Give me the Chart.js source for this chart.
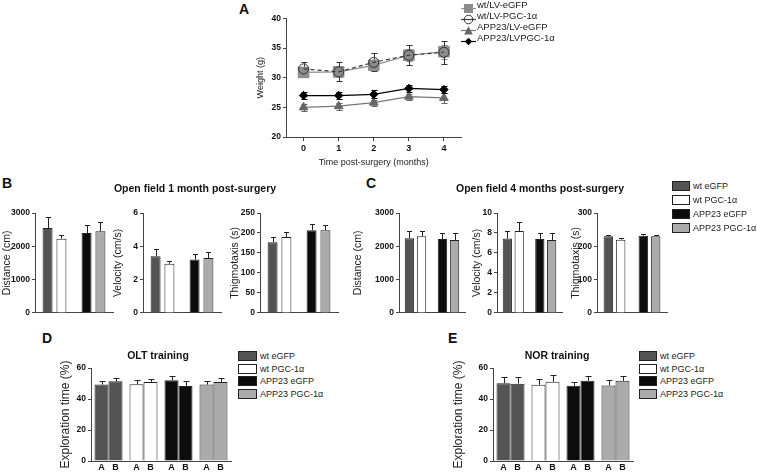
<!DOCTYPE html>
<html>
<head>
<meta charset="utf-8">
<script src="https://cdn.jsdelivr.net/npm/chart.js@4.4.1/dist/chart.umd.min.js"></script>
<style>
  body { margin: 0; background: #fff; width: 757px; height: 472px; position: relative; overflow: hidden;
         font-family: "Liberation Sans", Arial, sans-serif; color: #222; }
  canvas { position: absolute; }
  .t { position: absolute; white-space: nowrap; line-height: 1; }
  .box { position: absolute; height: 10px; box-sizing: border-box; border: 1px solid #222; }
</style>
</head>
<body>
<script>
// ---- panel A: body weight (g) ----
const months = ['0', '1', '2', '3', '4'];
const weightWtGfp = [30.9, 31.0, 32.1, 33.8, 34.4];
const weightWtGfpErr = [0.8, 0.9, 0.9, 1.0, 1.2];
const weightWtPgc = [31.5, 31.0, 32.6, 33.8, 34.3];
const weightWtPgcErr = [1.2, 1.6, 1.5, 1.7, 1.9];
const weightAppGfp = [25.0, 25.2, 25.8, 26.8, 26.6];
const weightAppGfpErr = [0.6, 0.6, 0.5, 0.5, 0.8];
const weightAppPgc = [27.0, 27.0, 27.2, 28.2, 28.0];
const weightAppPgcErr = [0.6, 0.6, 0.7, 0.6, 0.6];

// ---- panels B-E: groups ----
const groups = ['wt eGFP', 'wt PGC-1α', 'APP23 eGFP', 'APP23 PGC-1α'];
const genotypes = ['wt', 'APP23'];

// open field, 1 month
const of1Distance = [2550, 2230, 2400, 2450];
const of1DistanceErr = [340, 100, 250, 270];
const of1Velocity = [3.4, 2.95, 3.2, 3.3];
const of1VelocityErr = [0.42, 0.15, 0.32, 0.35];
const of1Thigmo = [177, 190, 207, 207];
const of1ThigmoErr = [13, 12, 16, 12];

// open field, 4 months
const of4Distance = [2240, 2300, 2220, 2190];
const of4DistanceErr = [210, 170, 170, 200];
const of4Velocity = [7.45, 8.2, 7.4, 7.3];
const of4VelocityErr = [0.7, 0.85, 0.55, 0.65];
const of4Thigmo = [230, 220, 232, 230];
const of4ThigmoErr = [5, 6, 6, 5];

// object training, exploration time (%) for objects A and B
const oltA = [49.3, 49.5, 52.1, 49.3];
const oltAErr = [2.1, 2.5, 2.5, 2.1];
const oltB = [51.4, 51.0, 48.4, 51.0];
const oltBErr = [2.1, 2.1, 3.0, 2.6];
const norA = [50.2, 49.2, 48.5, 48.7];
const norAErr = [3.8, 3.8, 2.6, 3.8];
const norB = [49.9, 51.1, 51.8, 51.7];
const norBErr = [4.1, 4.2, 2.8, 3.4];

const groupColors = ['#545454', '#ffffff', '#0c0c0c', '#ababab'];
const FONT = '"Liberation Sans", Arial, sans-serif';

Chart.defaults.font.family = FONT;
Chart.defaults.color = '#111';
Chart.defaults.animation = false;
Chart.defaults.plugins.legend.display = false;
Chart.defaults.plugins.tooltip.enabled = false;

// error bars, drawn from the y scale
const errorBars = {
  id: 'errorBars',
  beforeDatasetsDraw(chart) { drawErrors(chart, true); },
  afterDatasetsDraw(chart) { drawErrors(chart, false); }
};
function drawErrors(chart, behind) {
  const ctx = chart.ctx;
  const y = chart.scales.y;
  chart.data.datasets.forEach((ds, i) => {
    if (!ds.errors || !!ds.errorsBehind !== behind) return;
    const meta = chart.getDatasetMeta(i);
    const cap = ds.capWidth || 5;
    ctx.save();
    ctx.strokeStyle = ds.errorColor || '#222';
    ctx.lineWidth = 1;
    meta.data.forEach((el, j) => {
      const v = ds.data[j], e = ds.errors[j];
      const x = Math.round(el.x) + 0.5;
      const top = Math.round(y.getPixelForValue(v + e)) + 0.5;
      const bot = ds.upOnly ? el.y : Math.round(y.getPixelForValue(v - e)) + 0.5;
      ctx.beginPath();
      ctx.moveTo(x, bot);
      ctx.lineTo(x, top);
      ctx.moveTo(x - cap / 2, top);
      ctx.lineTo(x + cap / 2, top);
      if (!ds.upOnly) {
        ctx.moveTo(x - cap / 2, bot);
        ctx.lineTo(x + cap / 2, bot);
      }
      ctx.stroke();
    });
    ctx.restore();
  });
}

// "A" / "B" under each bar of the training panels
const barLetters = {
  id: 'barLetters',
  afterDraw(chart) {
    const ctx = chart.ctx;
    ctx.save();
    ctx.font = 'bold 9px ' + FONT;
    ctx.fillStyle = '#111';
    ctx.textAlign = 'center';
    ctx.textBaseline = 'middle';
    chart.data.datasets.forEach((ds, i) => {
      chart.getDatasetMeta(i).data.forEach(el => {
        ctx.fillText(ds.label, el.x, chart.chartArea.bottom + 7);
      });
    });
    ctx.restore();
  }
};

function place(id, left, top, width, height) {
  const c = document.createElement('canvas');
  c.id = id;
  c.width = width;
  c.height = height;
  c.style.left = left + 'px';
  c.style.top = top + 'px';
  c.style.width = width + 'px';
  c.style.height = height + 'px';
  document.body.appendChild(c);
  return c;
}

function addText(text, x, y, css, center) {
  const d = document.createElement('div');
  d.className = 't';
  d.textContent = text;
  d.style.cssText = 'left:' + x + 'px;top:' + y + 'px;transform:translate(' +
    (center ? '-50%' : '0') + ',-50%);' + css;
  document.body.appendChild(d);
  return d;
}

function yAxis(title, min, max, step, width, titleSize) {
  return {
    min: min, max: max,
    ticks: { stepSize: step, font: { size: 8.5, weight: 'bold' }, padding: 2, color: '#111',
             callback: v => String(v) },
    grid: { drawOnChartArea: false, tickLength: 3, color: '#444' },
    border: { color: '#444' },
    title: { display: true, text: title, font: { size: titleSize }, padding: 0, color: '#222' },
    afterFit: s => { s.width = width; }
  };
}

function xHidden(height) {
  return {
    ticks: { display: false },
    grid: { display: false },
    border: { color: '#444' },
    afterFit: s => { s.height = height; }
  };
}

// ---------- panel A ----------
const weightSeries = [
  { label: 'wt/LV-eGFP', data: weightWtGfp, err: weightWtGfpErr, shape: 'rect', radius: 7.5,
    line: '#8f8f8f', fill: '#8c8c8c', edge: '#8c8c8c', dash: [], order: 4 },
  { label: 'wt/LV-PGC-1α', data: weightWtPgc, err: weightWtPgcErr, shape: 'circle', radius: 5,
    line: '#3c3c3c', fill: 'rgba(0,0,0,0)', edge: '#333', dash: [4, 3], order: 3 },
  { label: 'APP23/LV-eGFP', data: weightAppGfp, err: weightAppGfpErr, shape: 'triangle', radius: 5,
    line: '#777', fill: '#666', edge: '#666', dash: [], order: 2 },
  { label: 'APP23/LVPGC-1α', data: weightAppPgc, err: weightAppPgcErr, shape: 'rectRot', radius: 4.2,
    line: '#000', fill: '#000', edge: '#000', dash: [], order: 1 }
];

new Chart(place('weight', 255, 10, 215, 158), {
  type: 'line',
  data: {
    labels: months,
    datasets: weightSeries.map(s => ({
      label: s.label, data: s.data, errors: s.err, errorsBehind: true, errorColor: s.edge, capWidth: 6,
      borderColor: s.line, borderWidth: 1.2, borderDash: s.dash,
      pointStyle: s.shape, pointRadius: s.radius, pointBackgroundColor: s.fill,
      pointBorderColor: s.edge, pointBorderWidth: 1, order: s.order
    }))
  },
  plugins: [errorBars],
  options: {
    responsive: false, devicePixelRatio: 1,
    layout: { padding: { top: 8, right: 7, left: 0, bottom: 0 } },
    scales: {
      x: {
        offset: true,
        ticks: { font: { size: 9, weight: 'bold' }, padding: 2, color: '#111' },
        grid: { drawOnChartArea: false, tickLength: 4, color: '#444' },
        border: { color: '#444' },
        title: { display: true, text: 'Time post-surgery (months)', font: { size: 9 }, padding: 0, color: '#222' },
        afterFit: s => { s.height = 31; }
      },
      y: yAxis('Weight (g)', 20, 40, 5, 31, 9)
    }
  }
});

// legend of panel A
const legendRowsA = [5, 16, 27, 38];
weightSeries.forEach((s, i) => {
  let mark;
  if (s.shape === 'rect') mark = '<rect x="3" y="1" width="9" height="9" fill="' + s.fill + '"/>';
  else if (s.shape === 'circle') mark = '<circle cx="7.5" cy="5.5" r="4.3" fill="none" stroke="' + s.edge + '"/>';
  else if (s.shape === 'triangle') mark = '<polygon points="7.5,1.2 11.8,9.5 3.2,9.5" fill="' + s.fill + '"/>';
  else mark = '<polygon points="7.5,1.8 11.2,5.5 7.5,9.2 3.8,5.5" fill="' + s.fill + '"/>';
  const d = document.createElement('div');
  d.style.cssText = 'position:absolute;left:461px;top:' + (legendRowsA[i] - 5.5) + 'px;width:15px;height:11px;';
  d.innerHTML = '<svg width="15" height="11"><line x1="0" y1="5.5" x2="15" y2="5.5" stroke="' + s.line +
    '" stroke-width="1.2"/>' + mark + '</svg>';
  document.body.appendChild(d);
  addText(s.label, 477, legendRowsA[i], 'font-size:9.5px;', false);
});

// ---------- panels B and C (open field) ----------
function pick(arr, idx) { return idx.map(i => arr[i]); }

function openField(id, left, yWidth, areaWidth, values, errors, title, max, step, barPct, catPct) {
  const canvas = place(id, left, 205, yWidth + areaWidth + 4, 115);
  const make = (label, idx) => ({
    label: label, data: pick(values, idx), errors: pick(errors, idx), upOnly: true, capWidth: 5,
    backgroundColor: pick(groupColors, idx), borderColor: '#222', borderWidth: 1,
    barPercentage: barPct, categoryPercentage: catPct
  });
  return new Chart(canvas, {
    type: 'bar',
    data: { labels: genotypes, datasets: [make('eGFP', [0, 2]), make('PGC-1α', [1, 3])] },
    plugins: [errorBars],
    options: {
      responsive: false, devicePixelRatio: 1,
      layout: { padding: { top: 8, right: 4, left: 0, bottom: 0 } },
      scales: { x: xHidden(4), y: yAxis(title, 0, max, step, yWidth, 10.5) }
    }
  });
}

openField('of1dist', 1, 34, 78, of1Distance, of1DistanceErr, 'Distance (cm)', 3000, 1000, 0.72, 0.71);
openField('of1vel', 112, 31, 78, of1Velocity, of1VelocityErr, 'Velocity (cm/s)', 6, 2, 0.72, 0.71);
openField('of1thig', 229, 31, 78, of1Thigmo, of1ThigmoErr, 'Thigmotaxis (s)', 250, 50, 0.72, 0.71);

openField('of4dist', 352, 47, 66, of4Distance, of4DistanceErr, 'Distance (cm)', 3000, 1000, 0.78, 0.73);
openField('of4vel', 471, 26, 65, of4Velocity, of4VelocityErr, 'Velocity (cm/s)', 10, 2, 0.78, 0.73);
openField('of4thig', 570, 27, 70, of4Thigmo, of4ThigmoErr, 'Thigmotaxis (s)', 300, 100, 0.78, 0.70);

// ---------- panels D and E (training) ----------
function training(id, left, yWidth, aVals, aErr, bVals, bErr) {
  const canvas = place(id, left, 360, yWidth + 140 + 4, 112);
  const make = (label, vals, errs) => ({
    label: label, data: vals, errors: errs, upOnly: true, capWidth: 6,
    backgroundColor: groupColors, borderColor: '#222', borderWidth: 1,
    barPercentage: 1.0, categoryPercentage: 0.8
  });
  return new Chart(canvas, {
    type: 'bar',
    data: { labels: groups, datasets: [make('A', aVals, aErr), make('B', bVals, bErr)] },
    plugins: [errorBars, barLetters],
    options: {
      responsive: false, devicePixelRatio: 1,
      layout: { padding: { top: 8, right: 4, left: 0, bottom: 0 } },
      scales: { x: xHidden(11), y: yAxis('Exploration time (%)', 0, 60, 20, yWidth, 12) }
    }
  });
}

training('olt', 58, 33, oltA, oltAErr, oltB, oltBErr);
training('nor', 451, 42, norA, norAErr, norB, norBErr);

// group legends (C, D, E)
function groupLegend(x, rows, boxW) {
  groups.forEach((g, i) => {
    const b = document.createElement('div');
    b.className = 'box';
    b.style.left = x + 'px';
    b.style.top = (rows[i] - 5) + 'px';
    b.style.width = boxW + 'px';
    b.style.background = groupColors[i];
    document.body.appendChild(b);
    addText(g, x + boxW + 3, rows[i], 'font-size:9px;', false);
  });
}
groupLegend(672, [186, 200, 214, 228], 18);
groupLegend(238, [356, 369, 381, 394], 19);
groupLegend(639, [356, 369, 381, 394], 18);

// panel letters and titles
const letterCss = 'font-size:14px;font-weight:bold;color:#111;';
addText('A', 239, 9, letterCss, false);
addText('B', 2, 183, letterCss, false);
addText('C', 366, 183, letterCss, false);
addText('D', 42, 338, letterCss, false);
addText('E', 448, 338, letterCss, false);

const subCss = 'font-size:10.5px;font-weight:bold;color:#111;';
addText('Open field 1 month post-surgery', 195, 188, subCss, true);
addText('Open field 4 months post-surgery', 540, 188, subCss, true);
addText('OLT training', 158, 355, subCss, true);
addText('NOR training', 557, 355, subCss, true);
</script>
</body>
</html>
